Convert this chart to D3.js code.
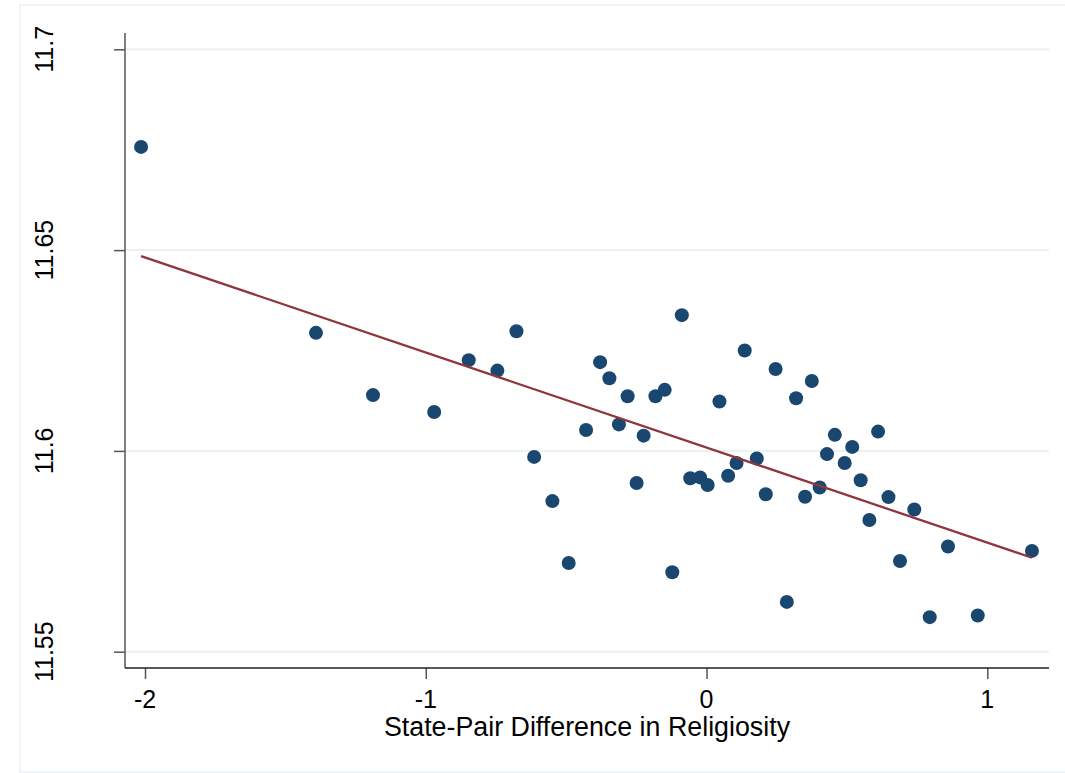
<!DOCTYPE html>
<html lang="en">
<head>
    <meta charset="UTF-8">
    <script src="https://d3js.org/d3.v7.min.js"></script>
    <style>
        body {margin: 0; background-color: #ffffff}
        svg {display: block}
        text {font-family: "Liberation Sans", Arial, sans-serif; fill: #000}
    </style>
</head>
<body>
<svg class="chart"></svg>
<script type="text/javascript">
    // state-pair difference in religiosity (x) and outcome (y)
    let religiosityDiff = [-2.014, -1.391, -1.188, -0.970, -0.847, -0.745, -0.677, -0.614, -0.549, -0.491,
        -0.429, -0.379, -0.346, -0.312, -0.281, -0.249, -0.224, -0.182, -0.149, -0.122,
        -0.088, -0.058, -0.023, 0.004, 0.046, 0.077, 0.107, 0.136, 0.179, 0.211,
        0.246, 0.286, 0.319, 0.351, 0.375, 0.403, 0.429, 0.457, 0.492, 0.519,
        0.549, 0.580, 0.611, 0.648, 0.689, 0.740, 0.795, 0.860, 0.966, 1.159];
    let outcome = [11.6757, 11.6294, 11.6139, 11.6097, 11.6226, 11.6200, 11.6298, 11.5985, 11.5875, 11.5721,
        11.6052, 11.6221, 11.6181, 11.6066, 11.6136, 11.5920, 11.6038, 11.6136, 11.6152, 11.5698,
        11.6338, 11.5932, 11.5934, 11.5915, 11.6123, 11.5938, 11.5970, 11.6250, 11.5981, 11.5892,
        11.6204, 11.5624, 11.6131, 11.5886, 11.6174, 11.5909, 11.5992, 11.6040, 11.5970, 11.6010,
        11.5927, 11.5828, 11.6048, 11.5885, 11.5726, 11.5854, 11.5586, 11.5762, 11.5590, 11.5751];

    // fitted line end points
    let fitX = [-2.014, 1.159];
    let fitY = [11.6485, 11.5734];

    let xTicks = [-2, -1, 0, 1];
    let yTicks = [11.55, 11.6, 11.65, 11.7];
    let xTitle = 'State-Pair Difference in Religiosity';

    let chartWidth = 1065, chartHeight = 773;
    let plotLeft = 125, plotRight = 1049, plotTop = 33, plotBottom = 668;

    var svg = d3.select('.chart')
        .attr('width', chartWidth)
        .attr('height', chartHeight);

    // outer frame
    svg.append('rect')
        .attr('x', 20).attr('y', 5)
        .attr('width', 1060).attr('height', 767)
        .attr('fill', 'none')
        .attr('stroke', '#eaf2f3')
        .attr('stroke-width', 1.5);

    var x = d3.scaleLinear()
        .domain([-2, 1])
        .range([145, 987.3]);

    var y = d3.scaleLinear()
        .domain([11.55, 11.7])
        .range([651.7, 49.3]);

    // grid
    svg.selectAll('line.grid').data(yTicks).enter().append('line')
        .attr('class', 'grid')
        .attr('x1', plotLeft).attr('x2', plotRight)
        .attr('y1', d => y(d)).attr('y2', d => y(d))
        .attr('stroke', '#eaf2f3')
        .attr('stroke-width', 2);

    // y axis
    var yAxis = svg.append('g')
        .attr('transform', 'translate(' + plotLeft + ',0)')
        .call(d3.axisLeft(y).tickValues(yTicks).tickSize(11).tickFormat(''));
    yAxis.select('.domain').remove();
    yAxis.selectAll('.tick line').attr('stroke', '#555').attr('stroke-width', 1.5);
    svg.append('line')
        .attr('x1', plotLeft).attr('x2', plotLeft)
        .attr('y1', plotTop).attr('y2', plotBottom)
        .attr('stroke', '#555').attr('stroke-width', 1.5);

    yTicks.forEach(d => {
        svg.append('text')
            .attr('transform', 'translate(53,' + y(d) + ') rotate(-90)')
            .attr('text-anchor', 'middle')
            .style('font-size', '25px')
            .text(d3.format('')(d));
    });

    // x axis
    var xAxis = svg.append('g')
        .attr('transform', 'translate(0,' + plotBottom + ')')
        .call(d3.axisBottom(x).tickValues(xTicks).tickSize(11).tickFormat(''));
    xAxis.select('.domain').remove();
    xAxis.selectAll('.tick line').attr('stroke', '#555').attr('stroke-width', 1.5);
    svg.append('line')
        .attr('x1', plotLeft).attr('x2', plotRight)
        .attr('y1', plotBottom).attr('y2', plotBottom)
        .attr('stroke', '#222').attr('stroke-width', 1.5);

    xTicks.forEach(d => {
        svg.append('text')
            .attr('x', x(d))
            .attr('y', 708)
            .attr('text-anchor', 'middle')
            .style('font-size', '25px')
            .text(d);
    });

    svg.append('text')
        .attr('x', (plotLeft + plotRight) / 2)
        .attr('y', 736)
        .attr('text-anchor', 'middle')
        .style('font-size', '26.8px')
        .text(xTitle);

    // points
    svg.selectAll('circle').data(religiosityDiff).enter().append('circle')
        .attr('cx', d => x(d))
        .attr('cy', (d, i) => y(outcome[i]))
        .attr('r', 7)
        .attr('fill', '#1a476f');

    // fitted line
    svg.append('path')
        .datum(fitX)
        .attr('fill', 'none')
        .attr('stroke', '#90353b')
        .attr('stroke-width', 2.3)
        .attr('d', d3.line()
            .x(d => x(d))
            .y((d, i) => y(fitY[i])));
</script>
</body>
</html>
